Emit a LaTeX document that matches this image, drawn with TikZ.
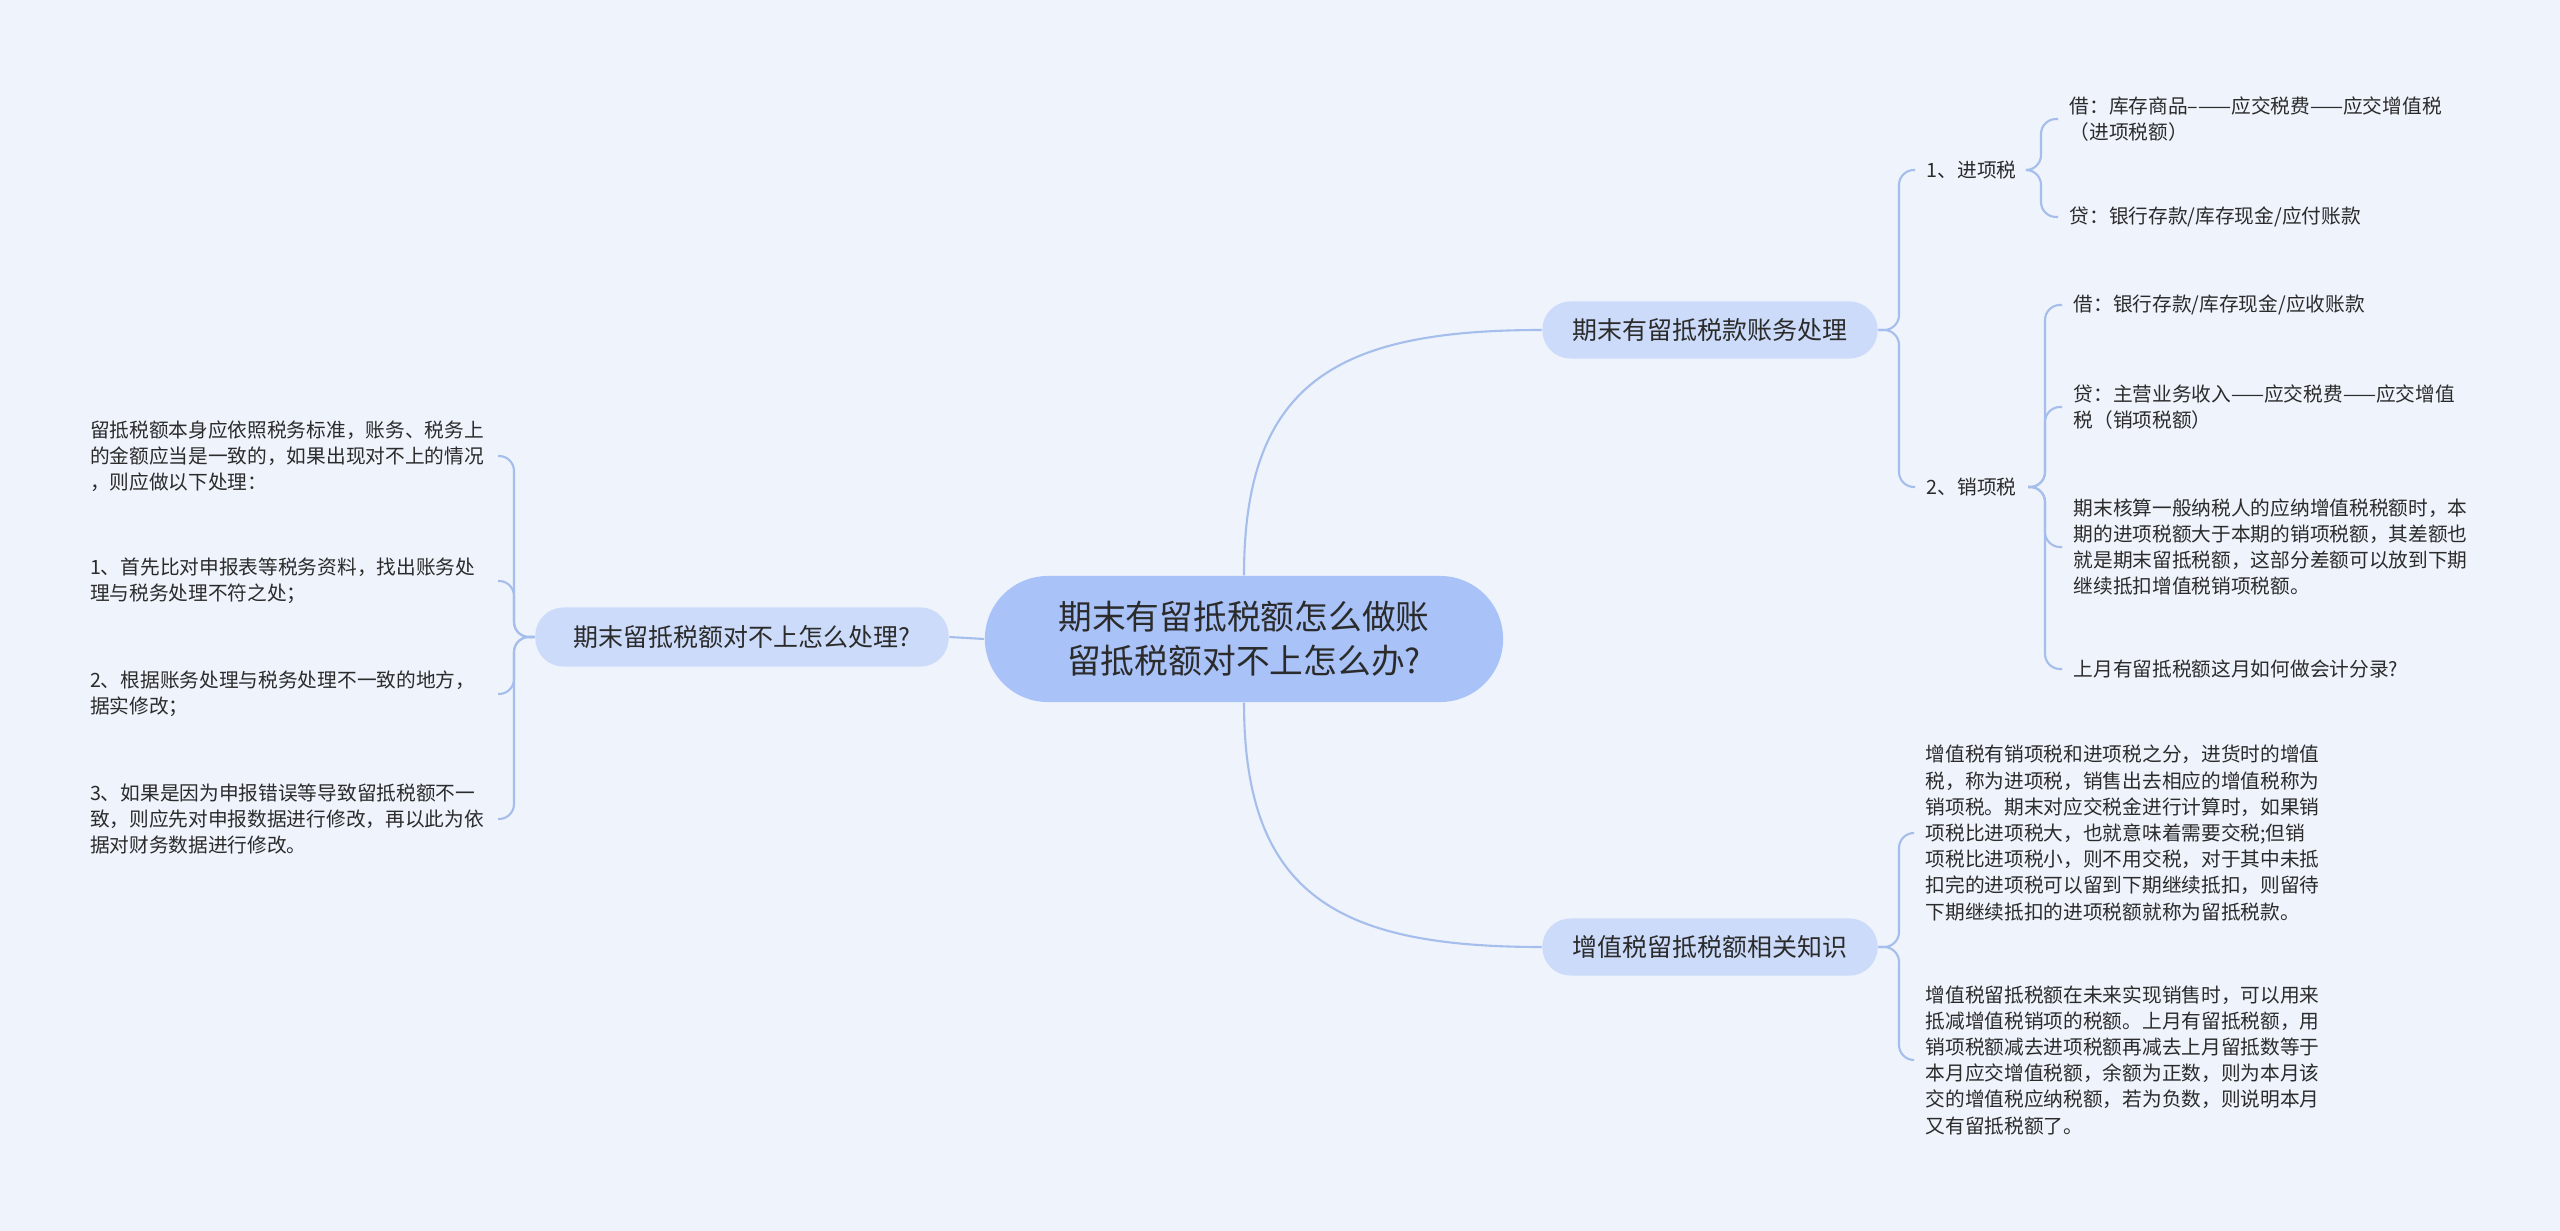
\documentclass[tikz,border=0pt]{standalone}
\usepackage{fontspec}
\setmainfont{Noto Sans CJK SC}
\definecolor{bgcol}{HTML}{EEF3FC}
\definecolor{rootcol}{HTML}{A9C2F7}
\definecolor{topiccol}{HTML}{CCDBF9}
\definecolor{linecol}{HTML}{A6BEEC}
\definecolor{txtcol}{HTML}{2B2B2B}
\tikzset{
  root/.style={fill=rootcol, rounded corners=0.63cm, minimum width=5.18cm, minimum height=1.26cm,
    align=center, text=txtcol, font=\fontsize{9.6}{12.5}\selectfont},
  topic/.style={fill=topiccol, rounded corners=0.28cm, minimum width=3.35cm, minimum height=0.57cm,
    text=txtcol, font=\fontsize{7.1}{9}\selectfont},
  leaf/.style={align=left, inner xsep=0.11cm, inner ysep=0pt, text=txtcol,
    font=\fontsize{5.6}{7.45}\selectfont},
  leftleaf/.style={leaf, anchor=east, text width=3.96cm},
  link/.style={draw=linecol, line width=0.6pt, rounded corners=0.15cm},
}
\begin{document}
\begin{tikzpicture}[x=0.01cm, y=-0.01cm]
    \fill[bgcol] (0,0) rectangle (2560,1231);
    \useasboundingbox (0,0) rectangle (2560,1231);
    \node[root] (root) at (1244,639) {期末有留抵税额怎么做账\\留抵税额对不上怎么办?};
    \node[topic] (acct) at (1710,330) {期末有留抵税款账务处理};
    \node[topic] (know) at (1710,947) {增值税留抵税额相关知识};
    \node[topic, minimum width=4.13cm, minimum height=0.59cm] (diff) at (742,637) {期末留抵税额对不上怎么处理?};
    \node[leaf, anchor=west] (jin) at (1915,170) {1、进项税};
    \node[leaf, anchor=west] (jindebit) at (2058,119) {借：库存商品–——应交税费——应交增值税\\（进项税额）};
    \node[leaf, anchor=west] (jincredit) at (2058,217) {贷：银行存款/库存现金/应付账款};
    \node[leaf, anchor=west] (xiao) at (1915,487) {2、销项税};
    \node[leaf, anchor=west] (xiaodebit) at (2062,305) {借：银行存款/库存现金/应收账款};
    \node[leaf, anchor=west] (xiaocredit) at (2062,407) {贷：主营业务收入——应交税费——应交增值\\税（销项税额）};
    \node[leaf, anchor=west] (xiaonote) at (2062,547) {期末核算一般纳税人的应纳增值税税额时，本\\期的进项税额大于本期的销项税额，其差额也\\就是期末留抵税额，这部分差额可以放到下期\\继续抵扣增值税销项税额。};
    \node[leaf, anchor=west] (xiaoask) at (2062,669) {上月有留抵税额这月如何做会计分录?};
    \node[leaf, anchor=west] (knowa) at (1914,833) {增值税有销项税和进项税之分，进货时的增值\\税，称为进项税，销售出去相应的增值税称为\\销项税。期末对应交税金进行计算时，如果销\\项税比进项税大，也就意味着需要交税;但销\\项税比进项税小，则不用交税，对于其中未抵\\扣完的进项税可以留到下期继续抵扣，则留待\\下期继续抵扣的进项税额就称为留抵税款。};
    \node[leaf, anchor=west] (knowb) at (1914,1060) {增值税留抵税额在未来实现销售时，可以用来\\抵减增值税销项的税额。上月有留抵税额，用\\销项税额减去进项税额再减去上月留抵数等于\\本月应交增值税额，余额为正数，则为本月该\\交的增值税应纳税额，若为负数，则说明本月\\又有留抵税额了。};
    \node[leftleaf] (diffa) at (498,456) {留抵税额本身应依照税务标准，账务、税务上\\的金额应当是一致的，如果出现对不上的情况\\，则应做以下处理：};
    \node[leftleaf] (diffb) at (498,581) {1、首先比对申报表等税务资料，找出账务处\\理与税务处理不符之处；};
    \node[leftleaf] (diffc) at (498,694) {2、根据账务处理与税务处理不一致的地方，\\据实修改；};
    \node[leftleaf] (diffd) at (498,819) {3、如果是因为申报错误等导致留抵税额不一\\致，则应先对申报数据进行修改，再以此为依\\据对财务数据进行修改。};
    \draw[link] (root.north) .. controls (1244,380) and (1340,330) .. (acct.west);
    \draw[link] (root.south) .. controls (1244,897) and (1340,947) .. (know.west);
    \draw[link] (root.west) -- (diff.east);
    \foreach \c in {jin,xiao} \draw[link] (acct.east) -- (1899,330) |- (\c.west);
    \foreach \c in {jindebit,jincredit} \draw[link] (jin.east) -- (2041,170) |- (\c.west);
    \foreach \c in {xiaodebit,xiaocredit,xiaonote,xiaoask} \draw[link] (xiao.east) -- (2045,487) |- (\c.west);
    \foreach \c in {knowa,knowb} \draw[link] (know.east) -- (1899,947) |- (\c.west);
    \foreach \c in {diffa,diffb,diffc,diffd} \draw[link] (diff.west) -- (514,637) |- (\c.east);
\end{tikzpicture}
\end{document}
